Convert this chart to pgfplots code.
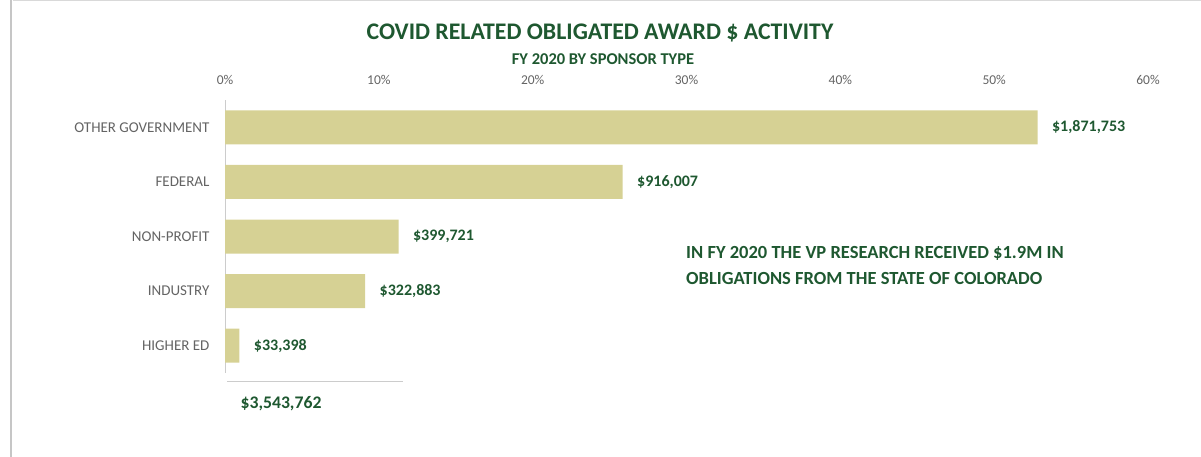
\documentclass[border=0pt]{standalone}
\usepackage{fontspec}
\setmainfont{Carlito}
\usepackage{pgfplots}
\pgfplotsset{compat=1.18}
\definecolor{dkgreen}{RGB}{30,88,48}
\definecolor{bargold}{RGB}{214,209,148}
\definecolor{lblgray}{RGB}{100,100,100}
\begin{document}
\begin{tikzpicture}[x=1pt,y=1pt]
\path[use as bounding box] (0,0) rectangle (1201,457);
\draw[gray!45, line width=1.5pt] (11,0) -- (11,457);
\draw[gray!30, line width=1pt] (13,456.5) -- (1201,456.5);
\begin{axis}[at={(225pt,84pt)}, anchor=south west, scale only axis,
  width=923pt, height=273pt,
  xbar, bar width=34pt,
  xmin=0, xmax=60, ymin=-0.5, ymax=4.5, y dir=reverse,
  axis x line*=top, axis y line*=left,
  x axis line style={draw=none},
  y axis line style={draw=gray!40, line width=1pt},
  major tick length=0pt,
  /pgf/number format/assume math mode=true,
  xtick={0,10,...,60},
  xticklabel={\pgfmathprintnumber{\tick}\%},
  xticklabel style={font=\fontsize{13.5}{16}\selectfont, text=lblgray, yshift=12pt},
  ytick={0,1,2,3,4},
  yticklabels={OTHER GOVERNMENT, FEDERAL, NON-PROFIT, INDUSTRY, HIGHER ED},
  yticklabel style={font=\fontsize{15}{17}\selectfont, text=lblgray, xshift=-12pt},
  nodes near coords,
  point meta=explicit symbolic,
  nodes near coords style={font=\fontsize{16}{19}\selectfont\bfseries, text=dkgreen, anchor=west, xshift=11pt},
]
\addplot[fill=bargold, draw=none] coordinates {
  (52.82,0) [\$1,871,753]
  (25.85,1) [\$916,007]
  (11.28,2) [\$399,721]
  (9.11,3) [\$322,883]
  (0.94,4) [\$33,398]
};
\end{axis}
\node[text=dkgreen, font=\fontsize{23.8}{28}\selectfont\bfseries] at (600,424) {COVID RELATED OBLIGATED AWARD \$ ACTIVITY};
\node[text=dkgreen, font=\fontsize{16.5}{19}\selectfont\bfseries] at (603,398) {FY 2020 BY SPONSOR TYPE};
\node[text=dkgreen, font=\fontsize{18.5}{26}\selectfont\bfseries, anchor=north west, align=left, inner sep=0pt] at (686,211)
  {IN FY 2020 THE VP RESEARCH RECEIVED \$1.9M IN\\OBLIGATIONS FROM THE STATE OF COLORADO};
\draw[gray!40, line width=1pt] (227,75) -- (403,75);
\node[text=dkgreen, font=\fontsize{17.7}{20}\selectfont\bfseries] at (281,53) {\$3,543,762};
\end{tikzpicture}
\end{document}
